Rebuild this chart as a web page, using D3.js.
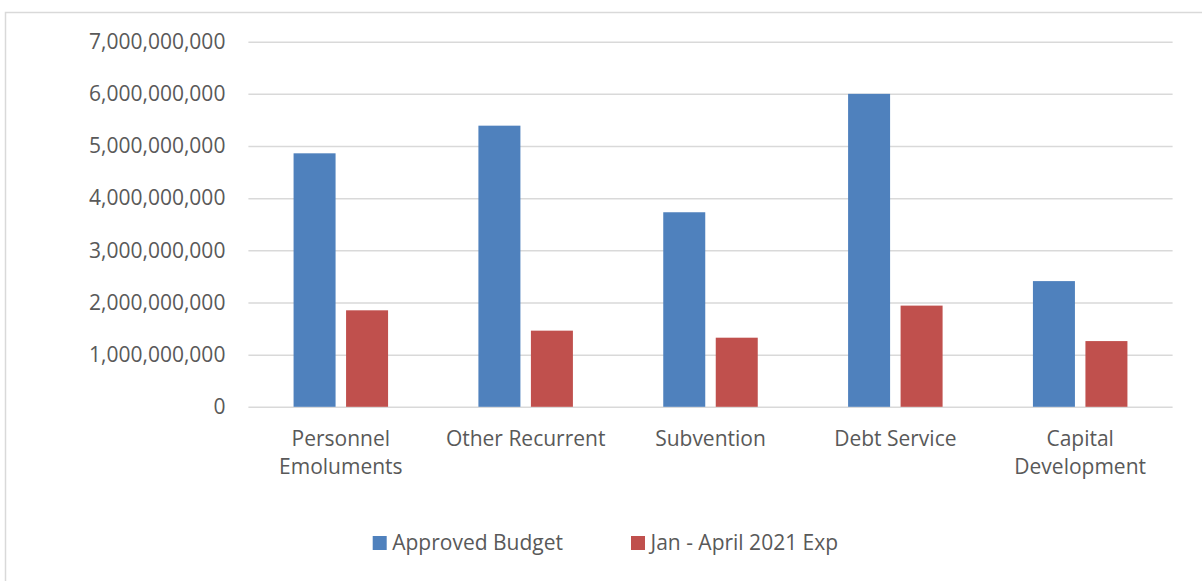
<!DOCTYPE html>
<html>
<head>
<meta charset="utf-8">
<script src="https://cdn.jsdelivr.net/npm/d3@7"></script>
<style>
  body { margin: 0; background: #fff; }
  svg text { font-family: "Open Sans", "Noto Sans", sans-serif; fill: #595959; }
</style>
</head>
<body>
<script>
// data
var categories = [['Personnel', 'Emoluments'], ['Other Recurrent'], ['Subvention'], ['Debt Service'], ['Capital', 'Development']];
var seriesNames = ['Approved Budget', 'Jan - April 2021 Exp'];
var approvedBudget = [4860000000, 5390000000, 3730000000, 6000000000, 2410000000];
var janAprilExp = [1850000000, 1460000000, 1325000000, 1940000000, 1260000000];
var yTicks = [0, 1000000000, 2000000000, 3000000000, 4000000000, 5000000000, 6000000000, 7000000000];
var colors = ['#4f81bd', '#c0504d'];

var svgWidth = 1202, svgHeight = 581;
var plotLeft = 248.4, plotRight = 1172.6, plotTop = 41.7, plotBottom = 406.8;
var fontSize = '21px';

var dataset = categories.map(function (c, i) {
    return { key: i, label: c, values: [approvedBudget[i], janAprilExp[i]] };
});

var svg = d3.select('body')
    .append('svg')
    .attr('width', svgWidth)
    .attr('height', svgHeight);

// chart border
svg.append('rect')
    .attr('x', 5.5)
    .attr('y', 12.5)
    .attr('width', svgWidth + 10)
    .attr('height', svgHeight + 10)
    .attr('fill', 'none')
    .attr('stroke', '#d9d9d9')
    .attr('stroke-width', 1.5);

// scales
var x0 = d3.scaleBand()
    .domain(dataset.map(function (d) { return d.key; }))
    .range([plotLeft, plotRight])
    .paddingInner(0)
    .paddingOuter(0);

var groupWidth = 94.5;
var x1 = d3.scaleBand()
    .domain([0, 1])
    .range([0, groupWidth])
    .paddingInner(0.2);

var yScale = d3.scaleLinear()
    .domain([0, 7000000000])
    .range([plotBottom, plotTop]);

// gridlines
var yAxis = d3.axisLeft(yScale)
    .tickValues(yTicks)
    .tickSize(-(plotRight - plotLeft))
    .tickPadding(23)
    .tickFormat(d3.format(','));

var gy = svg.append('g')
    .attr('class', 'y axis')
    .attr('transform', `translate(${ plotLeft }, 0)`)
    .call(yAxis);

gy.select('.domain').remove();
gy.selectAll('.tick line')
    .attr('stroke', '#d9d9d9')
    .attr('stroke-width', 1.5);
gy.selectAll('.tick text')
    .attr('font-size', fontSize)
    .attr('fill', '#595959');

// bars
var groups = svg.append('g')
    .selectAll('g')
    .data(dataset)
    .enter()
    .append('g')
    .attr('transform', function (d) {
        return `translate(${ x0(d.key) + (x0.bandwidth() - groupWidth) / 2 }, 0)`;
    });

groups.selectAll('rect')
    .data(function (d) { return d.values; })
    .enter()
    .append('rect')
    .attr('x', function (v, j) { return x1(j); })
    .attr('width', x1.bandwidth())
    .attr('y', function (v) { return yScale(v); })
    .attr('height', function (v) { return yScale(0) - yScale(v); })
    .attr('fill', function (v, j) { return colors[j]; });

// category labels
var xLabels = svg.append('g')
    .selectAll('text')
    .data(dataset)
    .enter()
    .append('text')
    .attr('x', function (d) { return x0(d.key) + x0.bandwidth() / 2; })
    .attr('y', 446)
    .attr('text-anchor', 'middle')
    .attr('font-size', fontSize);

xLabels.selectAll('tspan')
    .data(function (d) { return d.label; })
    .enter()
    .append('tspan')
    .attr('x', function () { return d3.select(this.parentNode).attr('x'); })
    .attr('dy', function (t, i) { return i === 0 ? 0 : 28; })
    .text(function (t) { return t; });

// legend
var legendX = [372.7, 631];
var legend = svg.append('g')
    .selectAll('g')
    .data(seriesNames)
    .enter()
    .append('g')
    .attr('transform', function (d, i) { return `translate(${ legendX[i] }, 536)`; });

legend.append('rect')
    .attr('width', 14)
    .attr('height', 14)
    .attr('fill', function (d, i) { return colors[i]; });

legend.append('text')
    .attr('x', 19.5)
    .attr('y', 14)
    .attr('font-size', fontSize)
    .text(function (d) { return d; });
</script>
</body>
</html>
